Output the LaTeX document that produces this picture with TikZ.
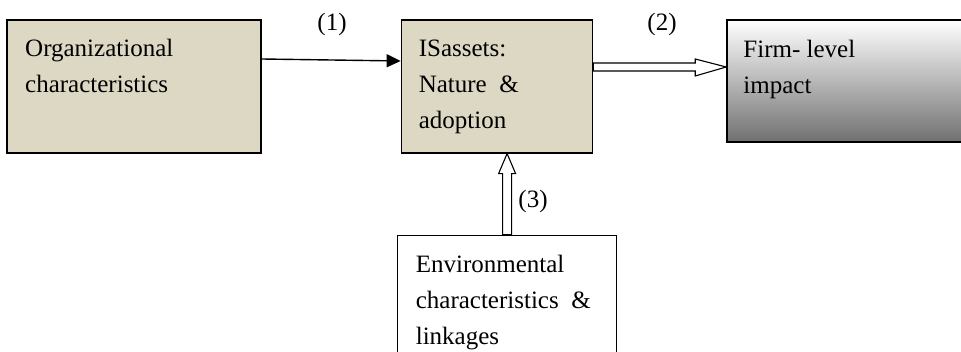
\documentclass[tikz,border=0pt]{standalone}
\usepackage{fontspec}
\setmainfont{Liberation Serif}
\usetikzlibrary{positioning, calc, arrows.meta}
\definecolor{tan}{RGB}{221,216,195}

\begin{document}
\begin{tikzpicture}[x=1pt, y=1pt, >={Triangle[length=14pt,width=13pt]},
  every node/.style={font=\fontsize{25}{36}\selectfont},
  box/.style={draw, line width=1.6pt, inner sep=0pt, minimum height=133pt},
  tanbox/.style={box, fill=tan},
  txt/.style={anchor=north west, inner sep=0pt, align=left},
  hollow/.style={draw, fill=white, line width=1.1pt, line join=miter}]

\path[use as bounding box, clip] (0,0) rectangle (961,352);

% boxes
\node[tanbox, minimum width=254pt, anchor=north west] (org) at (6,333) {};
\node[tanbox, minimum width=191pt, right=139pt of org] (is) {};
\node[box, minimum width=260pt, minimum height=122pt, top color=white,
  middle color=black!18, bottom color=black!56,
  right=133pt of is.north east, anchor=north west] (firm) {};
\node[box, fill=white, minimum width=219pt, below=81pt of is.south west,
  anchor=north west, xshift=-4pt] (env) {};

\node[txt] (orgtxt) at ($(org.north west)+(19,-20)$) {Organizational\\characteristics};
\node[txt] (istxt) at ($(is.north west)+(18,-21)$) {ISassets:\\Nature\ \ \&\\adoption};
\node[txt] (firmtxt) at ($(firm.north west)+(17,-21)$) {Firm- level\\impact};
\node[txt] (envtxt) at ($(env.north west)+(19,-20)$) {Environmental\\characteristics\ \ \&\\linkages};

% connectors
\draw[->, line width=1.4pt] ($(org.north east)+(0,-40)$) -- ($(is.north west)+(0,-42)$);
\draw[hollow] ($(is.north east)+(0,-44)$) -- ($(firm.north west)+(-31,-44)$) -- ++(0,4)
  -- ($(firm.north west)+(0,-48)$) -- ($(firm.north west)+(-31,-57)$) -- ++(0,5)
  -- ($(is.north east)+(0,-52)$) -- cycle;
\draw[hollow] ($(env.north west)+(106,0)$) -- ($(is.south west)+(102,-20)$) -- ++(-4,0)
  -- ($(is.south west)+(106.5,0)$) -- ($(is.south west)+(115,-20)$) -- ++(-4,0)
  -- ($(env.north west)+(115,0)$) -- cycle;

\node (one) at (332,328) {(1)};
\node (two) at (662,328) {(2)};
\node (three) at (533,151) {(3)};
\end{tikzpicture}
\end{document}
